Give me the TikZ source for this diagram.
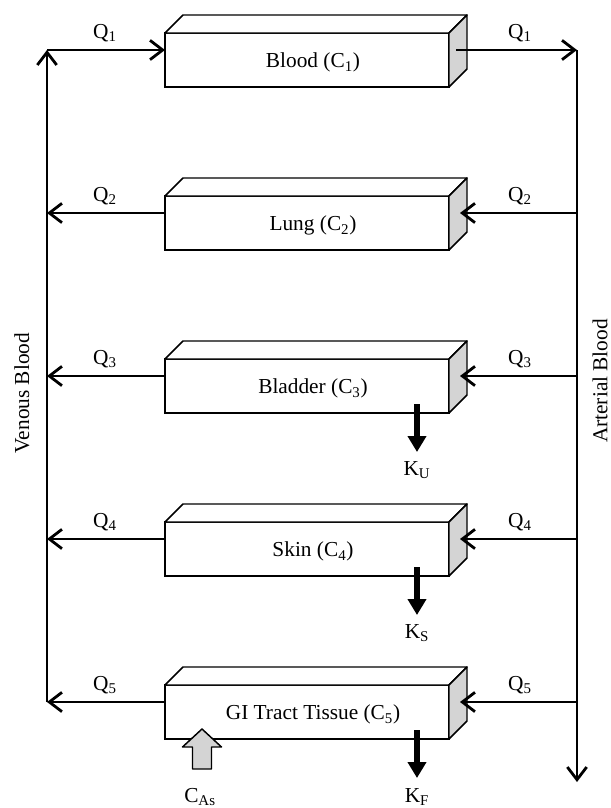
\documentclass[tikz,border=0pt]{standalone}
\usepackage{fontspec}
\setmainfont{Liberation Serif}
\usetikzlibrary{arrows.meta,calc}
\definecolor{sidegray}{gray}{0.83}

\begin{document}
\begin{tikzpicture}[
    x=0.75pt, y=-0.75pt,
    font=\fontsize{16}{19}\selectfont,
    organ/.style={draw, line width=1.1pt, fill=white, anchor=north west,
                  minimum width=213pt, minimum height=40.5pt, inner sep=0pt, outer sep=0pt},
    face/.style={draw, line width=1.1pt, line join=round},
    flow/.style={line width=2.1pt, -{Straight Barb[length=9.5pt,width=14.5pt]}},
    drain/.style={line width=5pt, -{Triangle[length=12pt,width=13.5pt]}},
    rate/.style={inner sep=1pt}
]
\useasboundingbox (0,0) rectangle (611,808);

% compartments
\node[organ, label={[xshift=4.5pt,yshift=-2pt]center:Blood (C\textsubscript{1})}] (blood) at (165,33) {};
\node[organ, label={[xshift=4.5pt,yshift=-2pt]center:Lung (C\textsubscript{2})}] (lung) at (165,196) {};
\node[organ, label={[xshift=4.5pt,yshift=-2pt]center:Bladder (C\textsubscript{3})}] (bladder) at (165,359) {};
\node[organ, label={[xshift=4.5pt,yshift=-2pt]center:Skin (C\textsubscript{4})}] (skin) at (165,522) {};
\node[organ, label={[xshift=4.5pt,yshift=-2pt]center:GI Tract Tissue (C\textsubscript{5})}] (gi) at (165,685) {};

% top and side faces
\foreach \b in {blood,lung,bladder,skin,gi}{
  \draw[face, fill=white] (\b.north west) -- ++(18,-18) -- ($(\b.north east)+(18,-18)$) -- (\b.north east) -- cycle;
  \draw[face, fill=sidegray] (\b.north east) -- ++(18,-18) -- ($(\b.south east)+(18,-18)$) -- (\b.south east) -- cycle;
}

% venous and arterial lines
\coordinate (vtop) at (47,50);
\coordinate (vbot) at (47,702);
\coordinate (atop) at (577,50);
\coordinate (abot) at (577,782);
\draw[flow] (vbot) -- (vtop);
\draw[flow] (atop) -- (abot);

\node[rotate=90] (venous) at (22,393) {Venous Blood};
\node[rotate=90] (arterial) at (600,381) {Arterial Blood};

% blood flows
\draw[flow] (vtop) -- (vtop -| blood.west);
\draw[flow] ($(blood.north east)+(7,17)$) -- (atop);
\foreach \n in {lung,bladder,skin,gi}{
  \coordinate (in) at ($(\n.north east)+(11,17)$);
  \draw[flow] (in -| atop) -- (in);
  \draw[flow] (in -| \n.west) -- (in -| vtop);
}

% flow labels
\node[rate] (q1v) at (105,33)  {Q\textsubscript{1}};
\node[rate] (q1a) at (520,33)  {Q\textsubscript{1}};
\node[rate] (q2v) at (105,196) {Q\textsubscript{2}};
\node[rate] (q2a) at (520,196) {Q\textsubscript{2}};
\node[rate] (q3v) at (105,359) {Q\textsubscript{3}};
\node[rate] (q3a) at (520,359) {Q\textsubscript{3}};
\node[rate] (q4v) at (105,522) {Q\textsubscript{4}};
\node[rate] (q4a) at (520,522) {Q\textsubscript{4}};
\node[rate] (q5v) at (105,685) {Q\textsubscript{5}};
\node[rate] (q5a) at (520,685) {Q\textsubscript{5}};

% elimination
\node[rate] (ku) at (417,470) {K\textsubscript{U}};
\node[rate] (ks) at (417,633) {K\textsubscript{S}};
\node[rate] (kf) at (417,797) {K\textsubscript{F}};
\coordinate (ku0) at ($(bladder.south west)+(252,-9)$);
\coordinate (ks0) at ($(skin.south west)+(252,-9)$);
\coordinate (kf0) at ($(gi.south west)+(252,-9)$);
\draw[drain] (ku0) -- ($(ku0)+(0,48)$);
\draw[drain] (ks0) -- ($(ks0)+(0,48)$);
\draw[drain] (kf0) -- ($(kf0)+(0,48)$);

% oral intake
\node[rate] (cas) at (200,797) {C\textsubscript{As}};
\coordinate (cas0) at ($(gi.south west)+(37,-10)$);
\draw[face, fill=sidegray] (cas0) -- ++(19.5,18) -- ++(-10,0) -- ++(0,22) -- ++(-19,0) -- ++(0,-22) -- ++(-10,0) -- cycle;

\end{tikzpicture}
\end{document}
